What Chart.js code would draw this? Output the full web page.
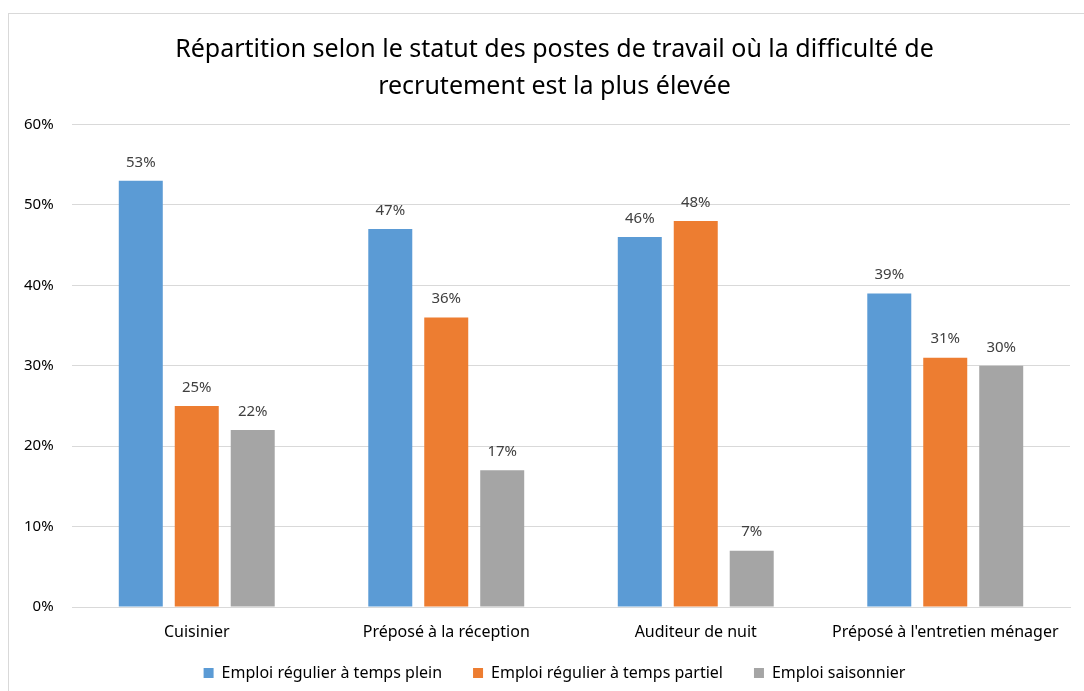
<!DOCTYPE html>
<html>
<head>
<meta charset="utf-8">
<script src="https://cdn.jsdelivr.net/npm/chart.js@4"></script>
<style>
  body { margin: 0; background: #fff; }
  #cadre { position: absolute; left: 8px; top: 13px; width: 1090px; height: 690px; border: 1px solid #d9d9d9; }
  #wrap { position: absolute; left: 0; top: 0; width: 1075px; height: 677px; }
</style>
</head>
<body>
<div id="cadre"><div id="wrap"><canvas id="a"></canvas></div></div>
<script>
const categories = ["Cuisinier", "Préposé à la réception", "Auditeur de nuit", "Préposé à l'entretien ménager"];
const pleinTemps = [53, 47, 46, 39];
const tempsPartiel = [25, 36, 48, 31];
const saisonnier = [22, 17, 7, 30];
const yTicks = [0, 10, 20, 30, 40, 50, 60];

const police = "'Noto Sans', sans-serif";

const etiquettes = {
  id: "etiquettes",
  afterDatasetsDraw(chart) {
    const ctx = chart.ctx;
    ctx.save();
    ctx.font = "15px " + police;
    ctx.fillStyle = "#404040";
    ctx.textAlign = "center";
    ctx.textBaseline = "bottom";
    chart.data.datasets.forEach((ds, i) => {
      chart.getDatasetMeta(i).data.forEach((bar, j) => {
        ctx.fillText(ds.data[j] + "%", bar.x, bar.y - 11);
      });
    });
    ctx.restore();
  }
};

new Chart(document.querySelector("#a").getContext("2d"), {
  type: "bar",
  data: {
    labels: categories,
    datasets: [
      { label: "Emploi régulier à temps plein", data: pleinTemps, backgroundColor: "#5B9BD5" },
      { label: "Emploi régulier à temps partiel", data: tempsPartiel, backgroundColor: "#ED7D31" },
      { label: "Emploi saisonnier", data: saisonnier, backgroundColor: "#A5A5A5" },
    ],
  },
  options: {
    responsive: true,
    maintainAspectRatio: false,
    animation: false,
    categoryPercentage: 0.673,
    barPercentage: 0.786,
    layout: { padding: { left: 30, right: 14, top: 4, bottom: 0 } },
    plugins: {
      title: {
        display: true,
        text: ["Répartition selon le statut des postes de travail où la difficulté de", "recrutement est la plus élevée"],
        color: "#000",
        font: { family: police, size: 25, weight: "400", lineHeight: 1.45 },
        padding: { top: 14, bottom: 20 },
      },
      legend: {
        position: "bottom",
        labels: {
          color: "#000",
          boxWidth: 10,
          boxHeight: 10,
          padding: 31,
          font: { family: police, size: 16 },
        },
      },
      tooltip: { enabled: false },
    },
    scales: {
      x: {
        afterFit(axis) { axis.height = 27; },
        grid: { display: false },
        border: { color: "#d9d9d9" },
        ticks: { color: "#000", font: { family: police, size: 16 }, mirror: true, padding: -35 },
      },
      y: {
        min: 0,
        max: 60,
        afterBuildTicks(axis) { axis.ticks = yTicks.map(v => ({ value: v })); },
        afterFit(axis) { axis.width = 33; },
        grid: { color: "#d9d9d9", drawTicks: false },
        border: { display: false },
        ticks: {
          color: "#000",
          font: { family: police, size: 15 },
          mirror: true,
          crossAlign: "far",
          padding: -48,
          callback: v => v + "%",
        },
      },
    },
  },
  plugins: [etiquettes],
});
</script>
</body>
</html>
